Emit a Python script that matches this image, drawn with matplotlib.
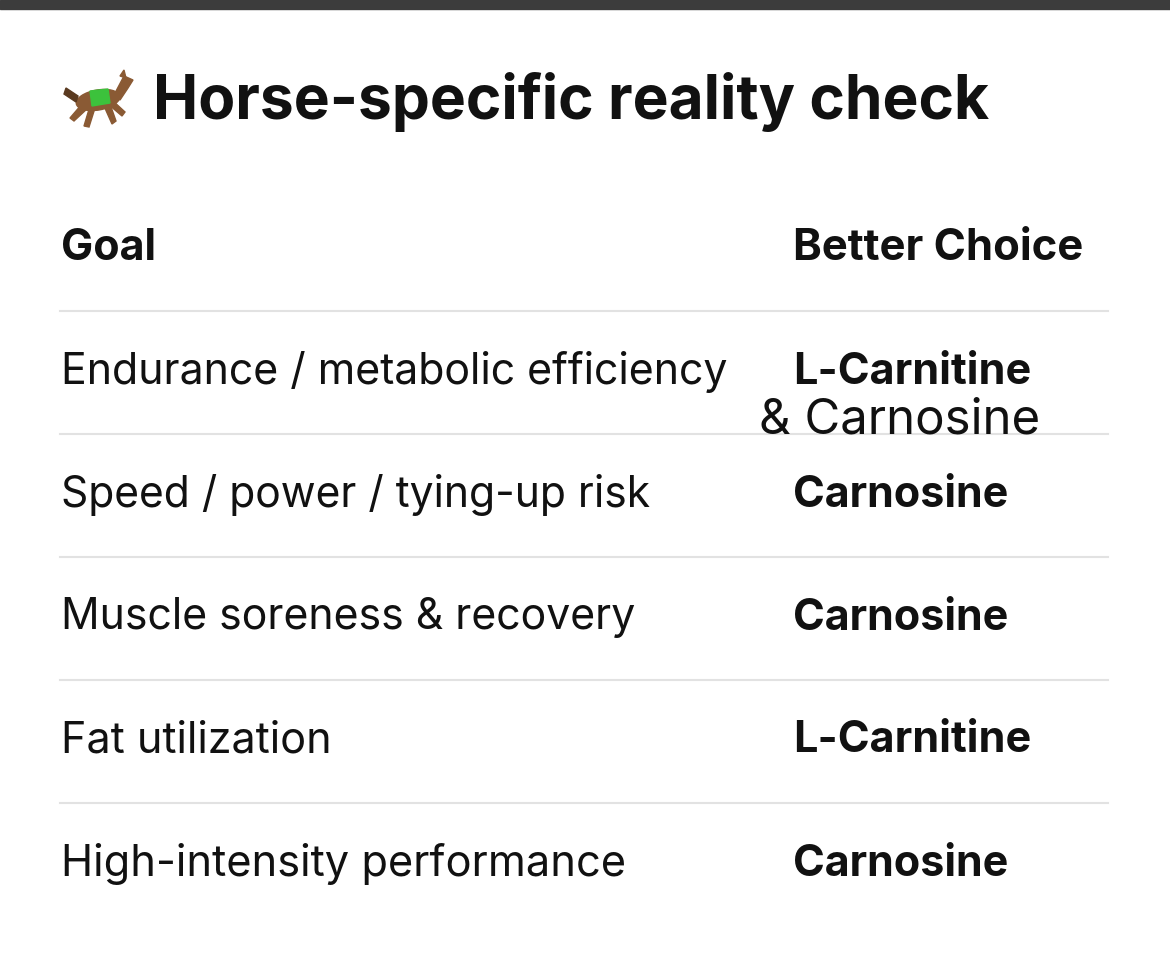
import matplotlib.pyplot as plt
from matplotlib.patches import Rectangle, Ellipse, Polygon

TITLE = "Horse-specific reality check"
HEADERS = ["Goal", "Better Choice"]
GOALS = [
    "Endurance / metabolic efficiency",
    "Speed / power / tying-up risk",
    "Muscle soreness & recovery",
    "Fat utilization",
    "High-intensity performance",
]
CHOICES = ["L-Carnitine", "Carnosine", "Carnosine", "L-Carnitine", "Carnosine"]
EXTRA = "& Carnosine"

W, H = 1170, 969
INK = "#111111"
RULE = "#e2e2e2"
BROWN = "#8a5a34"

plt.rcParams["font.family"] = ["Inter", "DejaVu Sans"]
fig = plt.figure(figsize=(W / 100, H / 100), dpi=100)
ax = fig.add_axes([0, 0, 1, 1])
ax.set_xlim(0, W)
ax.set_ylim(H, 0)
ax.axis("off")
texts = []


def put(x, y, s, size, target_w, **kw):
    t = ax.text(x, y, s, fontsize=size, color=INK, va="center", **kw)
    texts.append((t, target_w))


ax.add_patch(Rectangle((0, 0), W, 9, color="#3c3c3c"))

# horse emoji drawn as a small galloping silhouette (no installed font has it)
ax.add_patch(Ellipse((98, 100), 44, 20, angle=-10, color=BROWN))
ax.add_patch(Polygon([[114, 95], [124, 76], [133, 80], [128, 88], [120, 100]], color=BROWN))
ax.add_patch(Polygon([[120, 76], [124, 70], [126, 78]], color=BROWN))
ax.add_patch(Polygon([[78, 96], [66, 88], [64, 94], [76, 102]], color="#5a3a20"))
for leg in ([[82, 104], [70, 118], [74, 121], [88, 108]],
            [[90, 106], [84, 126], [89, 127], [95, 108]],
            [[108, 104], [122, 116], [125, 112], [112, 100]],
            [[104, 106], [112, 124], [116, 121], [110, 104]]):
    ax.add_patch(Polygon(leg, color=BROWN))
ax.add_patch(Polygon([[90, 91], [108, 89], [110, 103], [92, 106]], color="#3cc23c"))

put(153, 102, TITLE, 44, 837, weight="bold")
put(61, 248, HEADERS[0], 28, 95, weight="bold")
put(793, 248, HEADERS[1], 28, 290, weight="bold")

goal_w = [669, 590, 575, 271, 565]
choice_w = {"L-Carnitine": 237, "Carnosine": 215}
y0, step = 372, 123
for i, (goal, choice) in enumerate(zip(GOALS, CHOICES)):
    y = y0 + i * step
    ax.plot([60, 1108], [y - 61, y - 61], color=RULE, lw=1.5)
    put(61, y, goal, 29, goal_w[i])
    put(793, y, choice, 28, choice_w[choice], weight="bold")

put(759, 421, EXTRA, 33, 281)

# fit each label to the width it has in the reference
fig.canvas.draw()
r = fig.canvas.get_renderer()
for t, tw in texts:
    w = t.get_window_extent(r).width
    t.set_fontsize(t.get_fontsize() * tw / w)

fig.savefig("out.png", dpi=100, facecolor="white")
